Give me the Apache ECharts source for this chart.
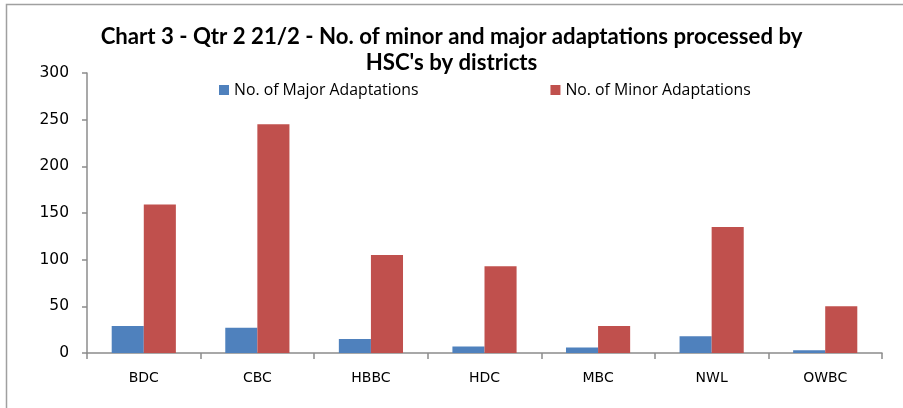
<!DOCTYPE html>
<html>
<head>
<meta charset="utf-8">
<script src="https://cdn.jsdelivr.net/npm/echarts@6/dist/echarts.min.js"></script>
<style>
  html, body { margin: 0; padding: 0; background: #fff; }
  #chart { width: 903px; height: 408px; }
</style>
</head>
<body>
<div id="chart"></div>
<script>
// Adaptations processed per district, quarter 2
const districts = ['BDC', 'CBC', 'HBBC', 'HDC', 'MBC', 'NWL', 'OWBC'];
const majorAdaptations = [29, 27, 15, 7, 6, 18, 3];
const minorAdaptations = [159, 245, 105, 93, 29, 135, 50];
const yTicks = [0, 50, 100, 150, 200, 250, 300];

const seriesNames = ['No. of Major Adaptations', 'No. of Minor Adaptations'];
const labelFont = 'DejaVu Sans';

const chart = echarts.init(document.getElementById('chart'), null, { renderer: 'canvas' });

chart.setOption({
  backgroundColor: '#ffffff',
  animation: false,
  title: {
    text: "Chart 3 - Qtr 2 21/2 - No. of minor and major adaptations processed by\nHSC's by districts",
    left: 'center',
    top: 19,
    textStyle: {
      fontFamily: 'Lato',
      fontWeight: 'bold',
      fontSize: 22.2,
      lineHeight: 26,
      color: '#000'
    }
  },
  legend: {
    data: seriesNames,
    top: 77,
    left: 214,
    itemGap: 132,
    itemWidth: 10,
    itemHeight: 10,
    icon: 'rect',
    textStyle: { fontFamily: 'Open Sans', fontSize: 15.8, color: '#000' }
  },
  graphic: [{
    type: 'polyline',
    shape: { points: [[6.5, 408], [6.5, 4.5], [905, 4.5]] },
    style: { stroke: '#a0a0a0', lineWidth: 1.5, fill: null },
    silent: true
  }],
  grid: { left: 87, right: 21, top: 73, bottom: 55 },
  xAxis: {
    type: 'category',
    data: districts,
    axisLine: { lineStyle: { color: '#8c8c8c', width: 1.5 } },
    axisTick: { show: true, length: 6, lineStyle: { color: '#8c8c8c', width: 1.5 } },
    axisLabel: { fontFamily: labelFont, fontSize: 14, color: '#000', margin: 18 }
  },
  yAxis: {
    type: 'value',
    min: yTicks[0],
    max: yTicks[yTicks.length - 1],
    interval: yTicks[1] - yTicks[0],
    axisLine: { show: true, lineStyle: { color: '#8c8c8c', width: 1.5 } },
    axisTick: { show: true, length: 5, lineStyle: { color: '#8c8c8c', width: 1.5 } },
    splitLine: { show: false },
    axisLabel: { fontFamily: labelFont, fontSize: 15.5, color: '#000', margin: 18 }
  },
  series: [
    {
      name: seriesNames[0],
      type: 'bar',
      data: majorAdaptations,
      barGap: '0%',
      barCategoryGap: '43.5%',
      itemStyle: { color: '#4f81bd' }
    },
    {
      name: seriesNames[1],
      type: 'bar',
      data: minorAdaptations,
      barGap: '0%',
      barCategoryGap: '43.5%',
      itemStyle: { color: '#c0504d' }
    }
  ]
});
</script>
</body>
</html>
